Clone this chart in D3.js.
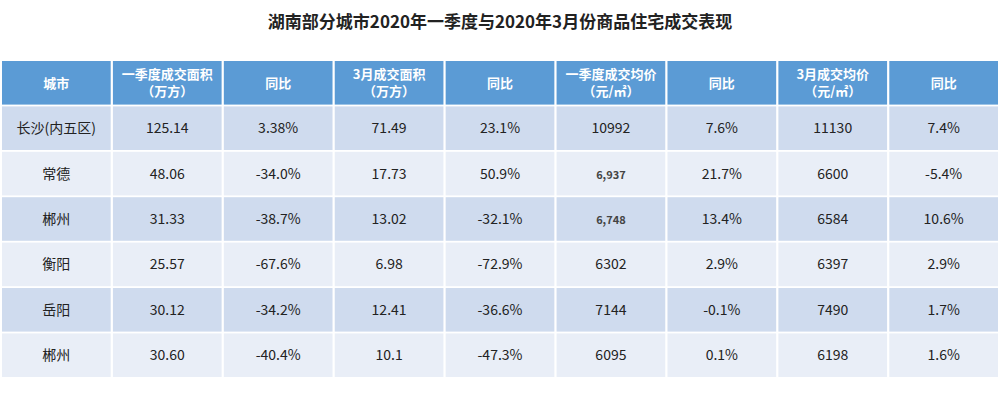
<!DOCTYPE html>
<html><head><meta charset="utf-8">
<script src="https://cdn.jsdelivr.net/npm/d3@7/dist/d3.min.js"></script>
<style>body{margin:0;background:#fff}</style></head>
<body><svg id="c" width="1000" height="403"></svg>
<script>
const title = "湖南部分城市2020年一季度与2020年3月份商品住宅成交表现";
const headers = [["城市"],["一季度成交面积","（万方）"],["同比"],["3月成交面积","（万方）"],["同比"],["一季度成交均价","（元/㎡）"],["同比"],["3月成交均价","（元/㎡）"],["同比"]];
const cities = ["长沙(内五区)","常德","郴州","衡阳","岳阳","郴州"];
const q1Area = ["125.14","48.06","31.33","25.57","30.12","30.60"];
const q1AreaYoy = ["3.38%","-34.0%","-38.7%","-67.6%","-34.2%","-40.4%"];
const marArea = ["71.49","17.73","13.02","6.98","12.41","10.1"];
const marAreaYoy = ["23.1%","50.9%","-32.1%","-72.9%","-36.6%","-47.3%"];
const q1Price = ["10992","6,937","6,748","6302","7144","6095"];
const q1PriceYoy = ["7.6%","21.7%","13.4%","2.9%","-0.1%","0.1%"];
const marPrice = ["11130","6600","6584","6397","7490","6198"];
const marPriceYoy = ["7.4%","-5.4%","10.6%","2.9%","1.7%","1.6%"];
const cols = [cities,q1Area,q1AreaYoy,marArea,marAreaYoy,q1Price,q1PriceYoy,marPrice,marPriceYoy];

const svg = d3.select("#c");
const font = "'Noto Sans CJK SC','Noto Sans',sans-serif";
svg.append("text").attr("x",500).attr("y",28).attr("text-anchor","middle")
  .attr("font-family",font).attr("font-weight","bold").attr("font-size",17).attr("fill","#222").text(title);

const x = d3.scaleBand().domain(d3.range(9)).range([2,998]).paddingInner(0.02);
const y = d3.scaleBand().domain(d3.range(7)).range([61,377]).paddingInner(0.04);

headers.forEach((h,i)=>{
  svg.append("rect").attr("x",x(i)).attr("y",y(0)).attr("width",x.bandwidth()).attr("height",y.bandwidth()).attr("fill","#5b9bd5");
  const cx = x(i)+x.bandwidth()/2, cy = y(0)+y.bandwidth()/2;
  h.forEach((t,k)=>{
    svg.append("text").attr("x",cx).attr("y", h.length===1? cy+5 : cy-4+k*17)
      .attr("text-anchor","middle").attr("font-family",font).attr("font-weight","bold")
      .attr("font-size",13).attr("fill","#fff").text(t);
  });
});
cities.forEach((c,r)=>{
  cols.forEach((col,i)=>{
    svg.append("rect").attr("x",x(i)).attr("y",y(r+1)).attr("width",x.bandwidth()).attr("height",y.bandwidth())
      .attr("fill", r%2===0 ? "#cfdbee" : "#e9eef7");
    const v = col[r], small = v.includes(",");
    svg.append("text").attr("x",x(i)+x.bandwidth()/2).attr("y",y(r+1)+y.bandwidth()/2+5)
      .attr("text-anchor","middle").attr("font-family",font)
      .attr("font-size",small?11:14).attr("font-weight",small?"bold":"normal")
      .attr("fill",small?"#444":"#222").text(v);
  });
});
</script></body></html>
